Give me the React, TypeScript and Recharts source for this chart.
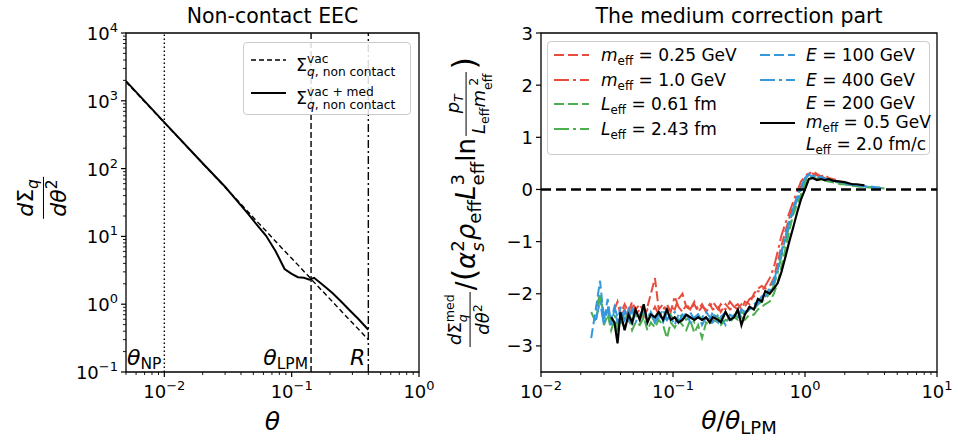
import React from 'react';
import { LineChart, Line, XAxis, YAxis, ReferenceLine, ReferenceArea } from 'recharts';

const FONT = '"DejaVu Sans", sans-serif';
const RED = '#e74c3c';
const GREEN = '#4caf50';
const BLUE = '#3498db';
const DASHED = '10 4';
const DASHDOT = '15 4 3 4';

// left panel: non-contact EEC
const eecTheta = [0.005, 0.01, 0.02, 0.03, 0.037, 0.045, 0.055, 0.063, 0.075, 0.088, 0.1, 0.112, 0.125, 0.138, 0.15, 0.18, 0.21, 0.25, 0.284, 0.33, 0.4];
const eecVac = [1900, 475, 119, 53, 35, 23.5, 15.7, 12, 8.4, 6.1, 4.75, 3.8, 3.04, 2.5, 2.1, 1.47, 1.08, 0.76, 0.59, 0.44, 0.3];
const eecVacMed = [1950, 480, 120, 54, 34, 22, 13.8, 10.2, 6.0, 3.3, 2.8, 2.5, 2.45, 2.3, 2.45, 1.85, 1.45, 1.05, 0.82, 0.62, 0.42];
const THETA_NP = 0.01;
const THETA_LPM = 0.142;
const JET_R = 0.4;

// right panel: medium correction vs theta/theta_LPM
const ratio = [
  0.024, 0.026, 0.028, 0.03, 0.032, 0.034, 0.036, 0.038, 0.04, 0.043,
  0.046, 0.049, 0.052, 0.056, 0.06, 0.064, 0.068, 0.073, 0.078, 0.084,
  0.09, 0.096, 0.103, 0.11, 0.118, 0.126, 0.135, 0.145, 0.155, 0.166,
  0.178, 0.19, 0.2, 0.22, 0.23, 0.25, 0.27, 0.29, 0.31, 0.33,
  0.35, 0.38, 0.41, 0.44, 0.47, 0.5, 0.54, 0.58, 0.62, 0.66,
  0.71, 0.76, 0.81, 0.87, 0.93, 1.0, 1.07, 1.15, 1.23, 1.32,
  1.41, 1.51, 1.62, 1.74, 1.86, 2.0, 2.14, 2.29, 2.46, 2.63,
  2.82, 3.02, 3.24, 3.47, 3.72, 4.0,
];
const mEff025 = [
  null, null, null, null, null, null, -2.3, -2.15, -2.4, -2.2,
  -2.35, -2.15, -2.3, -2.2, -2.35, -2.25, -2.0, -1.7, -2.3, -2.2,
  -2.35, -2.25, -2.3, -2.1, -2.0, -2.25, -2.3, -2.2, -2.35, -2.25,
  -2.3, -2.2, -2.3, -2.25, -2.35, -2.2, -2.3, -2.25, -2.2, -2.3,
  -2.15, -2.2, -2.0, -1.9, -1.85, -1.9, -1.85, -1.7, -1.4, -1.1,
  -0.8, -0.55, -0.35, -0.15, 0.05, 0.2, 0.3, 0.35, 0.3, 0.25,
  0.28, 0.22, 0.2, 0.18, 0.15, 0.13, 0.1, 0.1, 0.08, 0.07,
  0.06, null, null, null, null, null,
];
const mEff10 = [
  null, null, null, null, null, null, null, null, -2.45, -2.3,
  -2.5, -2.25, -2.4, -2.3, -2.45, -2.3, -2.4, -2.25, -2.4, -2.3,
  -2.2, -2.35, -2.05, -2.25, -2.35, -2.2, -2.3, -2.15, -2.3, -2.2,
  -2.35, -2.25, -2.15, -2.3, -2.2, -2.3, -2.15, -2.25, -2.3, -2.2,
  -2.25, -2.1, -2.05, -1.95, -1.95, -1.85, -1.7, -1.5, -1.2, -0.9,
  -0.65, -0.45, -0.25, -0.05, 0.15, 0.25, 0.32, 0.3, 0.27, 0.25,
  0.22, 0.2, 0.18, 0.15, 0.13, 0.12, 0.1, 0.08, 0.07, 0.06,
  null, null, null, null, null, null,
];
const lEff061 = [
  -2.35, -2.55, -2.0, -2.6, -2.4, -2.7, -2.5, -2.75, -2.5, -2.65,
  -2.45, -2.7, -2.55, -2.6, -2.45, -2.7, -2.55, -2.65, -2.5, -2.6,
  -2.85, -2.55, -2.65, -2.5, -2.6, -2.7, -2.5, -2.75, -2.6, -2.85,
  -2.55, -2.6, -2.5, -2.55, -2.6, -2.5, -2.55, -2.45, -2.5, -2.45,
  -2.5, -2.4, -2.4, -2.3, -2.25, -2.2, -2.15, -2.0, -1.8, -1.5,
  -1.15, -0.8, -0.5, -0.3, -0.1, 0.1, 0.2, 0.22, 0.2, 0.18,
  0.17, 0.15, 0.14, 0.12, 0.1, 0.1, 0.08, 0.07, 0.06, 0.05,
  0.05, 0.04, 0.04, 0.03, 0.03, 0.02,
];
const lEff243 = [
  null, -2.3, -2.0, -2.45, -2.3, -2.55, -2.4, -2.6, -2.45, -2.5,
  -2.35, -2.55, -2.4, -2.5, -2.35, -2.5, -2.4, -2.55, -2.35, -2.45,
  -2.5, -2.4, -2.55, -2.45, -2.4, -2.5, -2.45, -2.55, -2.4, -2.5,
  -2.45, -2.5, -2.4, -2.45, -2.5, -2.4, -2.45, -2.4, -2.45, -2.35,
  -2.4, -2.3, -2.3, -2.2, -2.15, -2.1, -2.0, -1.85, -1.6, -1.3,
  -1.0, -0.7, -0.45, -0.2, 0.0, 0.15, 0.25, 0.25, 0.22, 0.2,
  0.2, 0.17, 0.15, 0.14, 0.12, 0.1, 0.09, 0.08, 0.07, 0.06,
  0.05, 0.05, 0.04, 0.03, null, null,
];
const e100 = [
  -2.85, -2.3, -1.75, -2.5, -2.1, -2.6, -2.3, -2.55, -2.25, -2.5,
  -2.3, -2.6, -2.35, -2.45, -2.3, -2.55, -2.35, -2.5, -2.4, -2.55,
  -2.35, -2.45, -2.6, -2.4, -2.5, -2.35, -2.55, -2.45, -2.4, -2.6,
  -2.45, -2.5, -2.35, -2.55, -2.45, -2.6, -2.4, -2.45, -2.35, -2.45,
  -2.35, -2.3, -2.25, -2.2, -2.1, -2.05, -1.95, -1.8, -1.55, -1.25,
  -0.95, -0.65, -0.4, -0.2, 0.0, 0.2, 0.28, 0.25, 0.22, 0.25,
  0.2, 0.18, 0.17, 0.15, 0.13, 0.12, 0.1, 0.09, 0.08, 0.07,
  0.06, 0.05, 0.05, 0.04, 0.03, 0.03,
];
const e400 = [
  null, -2.5, -2.15, -2.6, -2.3, -2.5, -2.25, -2.45, -2.6, -2.35,
  -2.5, -2.3, -2.55, -2.4, -2.3, -2.45, -2.35, -2.55, -2.45, -2.3,
  -2.5, -2.4, -2.35, -2.55, -2.4, -2.45, -2.35, -2.5, -2.4, -2.45,
  -2.35, -2.45, -2.55, -2.4, -2.45, -2.35, -2.5, -2.4, -2.45, -2.3,
  -2.35, -2.25, -2.2, -2.15, -2.05, -2.0, -1.9, -1.75, -1.5, -1.2,
  -0.9, -0.6, -0.38, -0.15, 0.05, 0.22, 0.3, 0.27, 0.24, 0.22,
  0.21, 0.19, 0.17, 0.15, 0.14, 0.12, 0.11, 0.1, 0.08, 0.07,
  0.06, 0.05, 0.05, 0.04, 0.04, null,
];
const central = [
  null, null, null, null, null, -2.45, -2.55, -2.95, -2.35, -2.7,
  -2.4, -2.55, -2.3, -2.5, -2.2, -2.55, -2.4, -2.45, -2.35, -2.5,
  -2.3, -2.5, -2.45, -2.55, -2.5, -2.4, -2.45, -2.5, -2.45, -2.5,
  -2.45, -2.55, -2.45, -2.5, -2.55, -2.35, -2.5, -2.45, -2.3, -2.6,
  -2.4, -2.25, -2.3, -2.1, -2.15, -1.95, -2.0, -1.9, -1.8, -1.6,
  -1.3, -1.0, -0.75, -0.45, -0.2, 0.0, 0.2, 0.22, 0.18, 0.2,
  0.18, 0.2, 0.17, 0.16, 0.15, 0.14, 0.12, 0.1, 0.1, 0.09,
  0.08, null, null, null, null, null,
];
const rightYTicks = [-3, -2, -1, 0, 1, 2, 3];

const leftData = eecTheta.map((x, i) => ({ x, vac: eecVac[i], med: eecVacMed[i] }));
const rightData = ratio.map((x, i) => ({
  x, m025: mEff025[i], m10: mEff10[i], l061: lEff061[i], l243: lEff243[i],
  e100: e100[i], e400: e400[i], c: central[i],
}));

// tick positions 1..9 x 10^e for each decade
const decadeTicks = (lo: number, hi: number) => {
  const out: number[] = [];
  for (let e = lo; e <= hi; e++) {
    for (let k = 1; k <= 9; k++) {
      if (e === hi && k > 1) break;
      out.push(Number((k * Math.pow(10, e)).toPrecision(3)));
    }
  }
  return out;
};
const leftXTicks = decadeTicks(-3, 0).filter((v) => v >= 0.005);
const leftYTicks = decadeTicks(-1, 4);
const rightXTicks = decadeTicks(-2, 1);

const sup = (e: number) => (e < 0 ? `\u2212${-e}` : `${e}`);
const isMajor = (v: number) => Math.abs(Math.log10(v) - Math.round(Math.log10(v))) < 1e-6;
const TICK_FS = 18;
const EXP_FS = 13;

const LogTickX = (p: any) => {
  const { x, y, payload } = p;
  const v = payload.value;
  const major = isMajor(v);
  return (
    <g>
      <line x1={x} x2={x} y1={y} y2={y + (major ? 5 : 3)} stroke="#000" strokeWidth={major ? 1.2 : 0.9} />
      {major && (
        <text x={x} y={y + 26} textAnchor="middle" fontFamily={FONT} fontSize={TICK_FS} fill="#000">
          10<tspan dy={-8} fontSize={EXP_FS}>{sup(Math.round(Math.log10(v)))}</tspan>
        </text>
      )}
    </g>
  );
};

const LogTickY = (p: any) => {
  const { x, y, payload } = p;
  const v = payload.value;
  const major = isMajor(v);
  return (
    <g>
      <line x1={x - (major ? 5 : 3)} x2={x} y1={y} y2={y} stroke="#000" strokeWidth={major ? 1.2 : 0.9} />
      {major && (
        <text x={x - 8} y={y + 7} textAnchor="end" fontFamily={FONT} fontSize={TICK_FS} fill="#000">
          10<tspan dy={-8} fontSize={EXP_FS}>{sup(Math.round(Math.log10(v)))}</tspan>
        </text>
      )}
    </g>
  );
};

const LinTickY = (p: any) => {
  const { x, y, payload } = p;
  return (
    <g>
      <line x1={x - 5} x2={x} y1={y} y2={y} stroke="#000" strokeWidth={1.2} />
      <text x={x - 8} y={y + 6.5} textAnchor="end" fontFamily={FONT} fontSize={TICK_FS} fill="#000">
        {sup(payload.value)}
      </text>
    </g>
  );
};

const refLabel = (main: string, sub?: string) => (p: any) => {
  const vb = p.viewBox;
  return (
    <text x={vb.x - 3} y={vb.y + vb.height - 7} textAnchor="end" fontFamily={FONT} fontSize={22} fill="#000">
      <tspan fontStyle="italic">{main}</tspan>
      {sub && <tspan fontSize={15.5} dy={4}>{sub}</tspan>}
    </text>
  );
};

// small math helpers for the html labels
const It = ({ children }: any) => <span style={{ fontStyle: 'italic' }}>{children}</span>;
const Sub = ({ children, s }: any) => (
  <span style={{ fontSize: s * 0.7, verticalAlign: -s * 0.22 }}>{children}</span>
);
const Sup = ({ children, s }: any) => (
  <span style={{ fontSize: s * 0.7, verticalAlign: s * 0.42 }}>{children}</span>
);
const SupSub = ({ sup: hi, sub: lo, s }: any) => (
  <span style={{ display: 'inline-flex', flexDirection: 'column', fontSize: s * 0.7, lineHeight: 1.05, verticalAlign: s * 0.44 }}>
    <span>{hi}</span>
    <span>{lo}</span>
  </span>
);
const Frac = ({ num, den, s }: any) => (
  <span style={{ display: 'inline-flex', flexDirection: 'column', alignItems: 'center', verticalAlign: 'middle', fontSize: s, lineHeight: 1.15, margin: '0 2px' }}>
    <span style={{ padding: '0 2px' }}>{num}</span>
    <span style={{ borderTop: '1.4px solid #000', padding: '0 2px', alignSelf: 'stretch', textAlign: 'center' }}>{den}</span>
  </span>
);

const Rotated = ({ cx, cy, children, size }: any) => (
  <div style={{ position: 'absolute', left: cx, top: cy, width: 0, height: 0 }}>
    <div style={{ position: 'absolute', left: 0, top: 0, transform: 'translate(-50%, -50%) rotate(-90deg)', whiteSpace: 'nowrap', fontSize: size, lineHeight: 1.2 }}>
      {children}
    </div>
  </div>
);

const LS = 17; // right legend font size
const LS_LEFT = 17.5; // left legend font size
const rightLegendLeft = [
  { color: RED, dash: DASHED, label: <><It>m</It><Sub s={LS}>eff</Sub> = 0.25 GeV</> },
  { color: RED, dash: DASHDOT, label: <><It>m</It><Sub s={LS}>eff</Sub> = 1.0 GeV</> },
  { color: GREEN, dash: DASHED, label: <><It>L</It><Sub s={LS}>eff</Sub> = 0.61 fm</> },
  { color: GREEN, dash: DASHDOT, label: <><It>L</It><Sub s={LS}>eff</Sub> = 2.43 fm</> },
];
const rightLegendRight = [
  { color: BLUE, dash: DASHED, label: <><It>E</It> = 100 GeV</> },
  { color: BLUE, dash: DASHDOT, label: <><It>E</It> = 400 GeV</> },
];

const Swatch = ({ left, top, color, dash, w = 2 }: any) => (
  <svg width={36} height={10} style={{ position: 'absolute', left, top: top - 5 }}>
    <line x1={0} x2={35} y1={5} y2={5} stroke={color} strokeWidth={w} strokeDasharray={dash} />
  </svg>
);
const LegText = ({ left, top, children, fs = LS }: any) => (
  <div style={{ position: 'absolute', left, top: top - 9, lineHeight: '18px', fontSize: fs, whiteSpace: 'nowrap' }}>{children}</div>
);

const boxStyle: React.CSSProperties = {
  position: 'absolute', background: 'rgba(255,255,255,0.85)', border: '1px solid #cccccc', borderRadius: 4, boxSizing: 'border-box',
};

export default function App() {
  return (
    <div style={{ position: 'absolute', left: 0, top: 0, width: 968, height: 441, background: '#fff', fontFamily: FONT, color: '#000' }}>
      <div style={{ position: 'absolute', left: 0, top: 0 }}>
        <LineChart width={480} height={441} data={leftData} margin={{ top: 33, right: 61, bottom: 0, left: 0 }}>
          <XAxis dataKey="x" type="number" scale="log" domain={[0.005, 1]} allowDataOverflow ticks={leftXTicks}
            interval={0} tick={LogTickX} tickLine={false} axisLine={false} tickSize={0} tickMargin={0} height={69} />
          <YAxis type="number" scale="log" domain={[0.1, 10000]} allowDataOverflow ticks={leftYTicks}
            interval={0} tick={LogTickY} tickLine={false} axisLine={false} tickSize={0} tickMargin={0} width={126} />
          <ReferenceLine x={THETA_NP} stroke="#000" strokeWidth={1.4} strokeDasharray="1.5 2.5" label={refLabel('θ', 'NP')} />
          <ReferenceLine x={THETA_LPM} stroke="#000" strokeWidth={1.4} strokeDasharray="6 3" label={refLabel('θ', 'LPM')} />
          <ReferenceLine x={JET_R} stroke="#000" strokeWidth={1.4} strokeDasharray="8 3 2 3" label={refLabel('R')} />
          <Line dataKey="vac" stroke="#000" strokeWidth={1.4} strokeDasharray="5 3" dot={false} isAnimationActive={false} />
          <Line dataKey="med" stroke="#000" strokeWidth={2} dot={false} isAnimationActive={false} />
          <ReferenceArea x1={0.005} x2={1} y1={0.1} y2={10000} fill="none" stroke="#000" strokeWidth={1.3} ifOverflow="visible" />
        </LineChart>
      </div>

      <div style={{ position: 'absolute', left: 480, top: 0 }}>
        <LineChart width={488} height={441} data={rightData} margin={{ top: 33, right: 31, bottom: 0, left: 0 }}>
          <XAxis dataKey="x" type="number" scale="log" domain={[0.01, 10]} allowDataOverflow ticks={rightXTicks}
            interval={0} tick={LogTickX} tickLine={false} axisLine={false} tickSize={0} tickMargin={0} height={69} />
          <YAxis type="number" domain={[-3.5, 3]} allowDataOverflow ticks={rightYTicks}
            interval={0} tick={LinTickY} tickLine={false} axisLine={false} tickSize={0} tickMargin={0} width={61} />
          <Line dataKey="m025" stroke={RED} strokeWidth={2} strokeDasharray={DASHED} dot={false} isAnimationActive={false} />
          <Line dataKey="m10" stroke={RED} strokeWidth={2} strokeDasharray={DASHDOT} dot={false} isAnimationActive={false} />
          <Line dataKey="l061" stroke={GREEN} strokeWidth={2} strokeDasharray={DASHED} dot={false} isAnimationActive={false} />
          <Line dataKey="l243" stroke={GREEN} strokeWidth={2} strokeDasharray={DASHDOT} dot={false} isAnimationActive={false} />
          <Line dataKey="e100" stroke={BLUE} strokeWidth={2} strokeDasharray={DASHED} dot={false} isAnimationActive={false} />
          <Line dataKey="e400" stroke={BLUE} strokeWidth={2} strokeDasharray={DASHDOT} dot={false} isAnimationActive={false} />
          <Line dataKey="c" stroke="#000" strokeWidth={2.2} dot={false} isAnimationActive={false} />
          <ReferenceLine y={0} stroke="#000" strokeWidth={2.5} strokeDasharray="10 5" />
          <ReferenceArea x1={0.01} x2={10} y1={-3.5} y2={3} fill="none" stroke="#000" strokeWidth={1.3} ifOverflow="visible" />
        </LineChart>
      </div>

      {/* titles and x labels */}
      <svg width={968} height={441} style={{ position: 'absolute', left: 0, top: 0, pointerEvents: 'none' }}>
        <text x={272.5} y={22.5} textAnchor="middle" fontFamily={FONT} fontSize={20.5}>Non-contact EEC</text>
        <text x={739} y={22.5} textAnchor="middle" fontFamily={FONT} fontSize={20.5}>The medium correction part</text>
        <text x={272.5} y={430} textAnchor="middle" fontFamily={FONT} fontSize={25} fontStyle="italic">θ</text>
        <text x={739} y={429} textAnchor="middle" fontFamily={FONT} fontSize={25}>
          <tspan fontStyle="italic">θ</tspan>/<tspan fontStyle="italic">θ</tspan>
          <tspan fontSize={18} dy={5}>LPM</tspan>
        </text>
      </svg>

      {/* y labels */}
      <Rotated cx={42} cy={198} size={22}>
        <Frac s={22} num={<><It>d</It>Σ<Sub s={22}><It>q</It></Sub></>} den={<><It>dθ</It><Sup s={22}>2</Sup></>} />
      </Rotated>
      <Rotated cx={468} cy={203} size={26}>
        <Frac s={18} num={<><It>d</It>Σ<SupSub s={18} sup="med" sub={<It>q</It>} /></>} den={<><It>dθ</It><Sup s={18}>2</Sup></>} />
        /<span style={{ fontSize: 32 }}>(</span>
        <It>α</It><SupSub s={26} sup="2" sub={<It>s</It>} />
        <It>ρ</It><Sub s={26}>eff</Sub>
        <It>L</It><SupSub s={26} sup="3" sub="eff" />
        ln
        <Frac s={18} num={<><It>p</It><Sub s={18}><It>T</It></Sub></>}
          den={<><It>L</It><Sub s={18}>eff</Sub><It>m</It><SupSub s={18} sup="2" sub="eff" /></>} />
        <span style={{ fontSize: 32 }}>)</span>
      </Rotated>

      {/* left legend */}
      <div style={{ ...boxStyle, left: 243, top: 42, width: 168, height: 73 }}>
        <Swatch left={7} top={17} color="#000" dash="5 3" w={1.4} />
        <LegText left={52} top={19} fs={LS_LEFT}>Σ<SupSub s={LS_LEFT} sup="vac" sub={<><It>q</It>, non contact</>} /></LegText>
        <Swatch left={7} top={50} color="#000" w={2} />
        <LegText left={52} top={52} fs={LS_LEFT}>Σ<SupSub s={LS_LEFT} sup="vac + med" sub={<><It>q</It>, non contact</>} /></LegText>
      </div>

      {/* right legend */}
      <div style={{ ...boxStyle, left: 547, top: 41, width: 383, height: 114 }}>
        {rightLegendLeft.map((d, i) => (
          <React.Fragment key={`l${i}`}>
            <Swatch left={6} top={13 + i * 24.7} color={d.color} dash={d.dash} />
            <LegText left={53} top={13 + i * 24.7}>{d.label}</LegText>
          </React.Fragment>
        ))}
        {rightLegendRight.map((d, i) => (
          <React.Fragment key={`r${i}`}>
            <Swatch left={212} top={13 + i * 24.7} color={d.color} dash={d.dash} />
            <LegText left={258} top={13 + i * 24.7}>{d.label}</LegText>
          </React.Fragment>
        ))}
        <LegText left={258} top={61}><It>E</It> = 200 GeV</LegText>
        <Swatch left={212} top={81} color="#000" w={2.2} />
        <LegText left={258} top={80}><It>m</It><Sub s={LS}>eff</Sub> = 0.5 GeV</LegText>
        <LegText left={258} top={102}><It>L</It><Sub s={LS}>eff</Sub> = 2.0 fm/c</LegText>
      </div>
    </div>
  );
}
